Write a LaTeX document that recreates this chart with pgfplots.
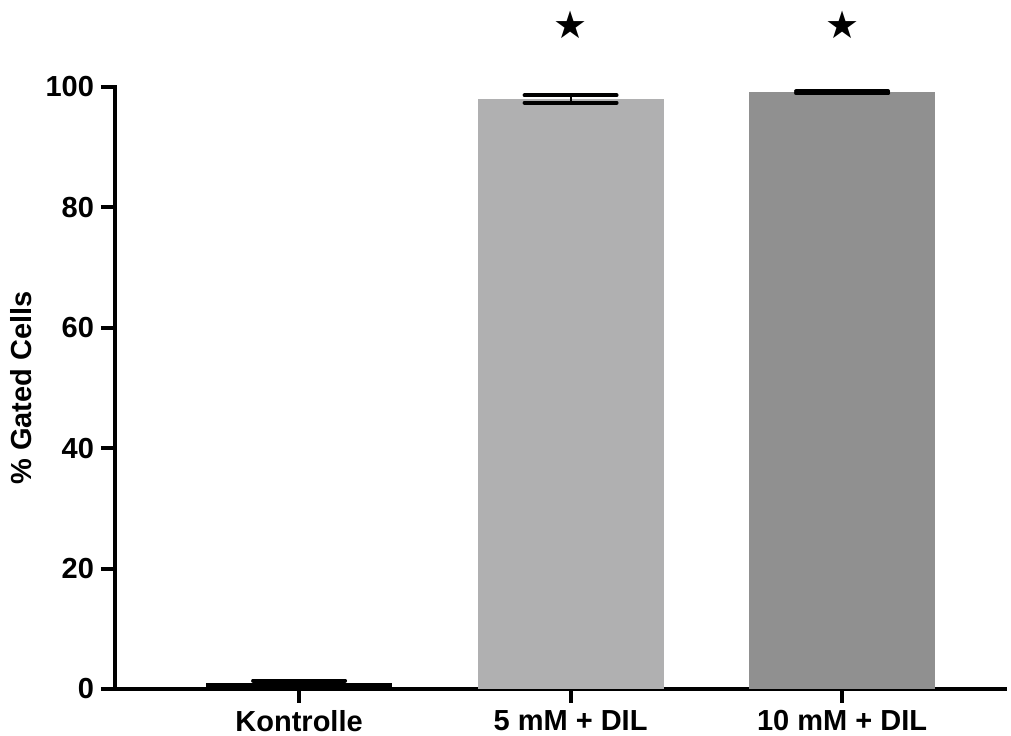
\documentclass[border=0pt]{standalone}
\usepackage{fontspec}
\setmainfont{Liberation Sans}
\newfontfamily\symfont{DejaVu Sans}
\usepackage{pgfplots}
\pgfplotsset{compat=1.18}
\definecolor{barA}{RGB}{176,176,177}
\definecolor{barB}{RGB}{144,144,144}
\begin{document}
\begin{tikzpicture}
\begin{axis}[
  scale only axis,
  width=445pt, height=301pt,
  xmin=-0.678, xmax=2.6,
  ymin=0, ymax=100,
  axis x line*=bottom, axis y line*=left,
  axis line style={line width=2pt, line cap=rect},
  xtick={0,1,2},
  xticklabels={Kontrolle, 5 mM + DIL, 10 mM + DIL},
  ytick={0,20,40,60,80,100},
  tick align=outside,
  major tick length=7pt,
  tick style={line width=2pt, black},
  ticklabel style={font=\fontsize{14.5}{15}\selectfont\bfseries},
  /pgf/number format/assume math mode=true,
  ylabel={\% Gated Cells},
  ylabel style={font=\fontsize{14.5}{15}\selectfont\bfseries},
  clip=false,
]
\addplot[ybar, bar width=0.685, bar shift=0pt, fill=black, draw=none,
  error bars/.cd, y dir=both, y explicit, error mark=|,
  error bar style={line width=1pt, black},
  error mark options={line width=2pt, mark size=23pt, line cap=round, black}]
  coordinates {(0,1.0) +- (0,0.4)};
\addplot[ybar, bar width=0.685, bar shift=0pt, fill=barA, draw=none,
  error bars/.cd, y dir=both, y explicit, error mark=|,
  error bar style={line width=1pt, black},
  error mark options={line width=2pt, mark size=23pt, line cap=round, black}]
  coordinates {(1,98.0) +- (0,0.6)};
\addplot[ybar, bar width=0.685, bar shift=0pt, fill=barB, draw=none,
  error bars/.cd, y dir=both, y explicit, error mark=|,
  error bar style={line width=1pt, black},
  error mark options={line width=2pt, mark size=23pt, line cap=round, black}]
  coordinates {(2,99.1) +- (0,0.15)};
\addplot[draw=none, mark=none, nodes near coords={\symfont\fontsize{19}{19}\selectfont ★},
  every node near coord/.append style={anchor=center}]
  coordinates {(1,110.3) (2,110.3)};
\end{axis}
\pgfresetboundingbox
\path ([shift={(-57.5pt,-23.5pt)}]current axis.south west) rectangle ([shift={(3pt,43.5pt)}]current axis.north east);
\end{tikzpicture}
\end{document}
